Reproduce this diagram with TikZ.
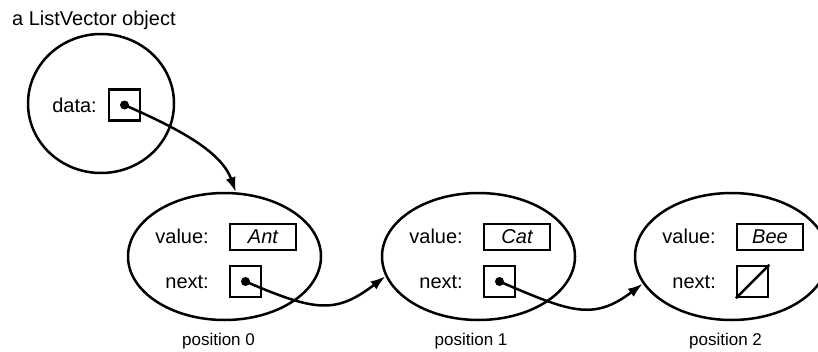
\documentclass[tikz,border=0pt]{standalone}
\usepackage{fontspec}
\setmainfont{Liberation Sans}
\usetikzlibrary{shapes.geometric,arrows.meta}
\begin{document}
\begin{tikzpicture}[x=1pt,y=-1pt,
  every node/.style={font=\fontsize{20}{24}\selectfont},
  lbl/.style={anchor=base east, inner sep=0},
  objshape/.style={draw, line width=2.5pt, ellipse, inner sep=0},
  listobj/.style={objshape, minimum width=193pt, minimum height=127pt},
  fieldbox/.style={draw, line width=2.5pt, rectangle, inner sep=0, minimum width=31pt, minimum height=31pt},
  valbox/.style={draw, line width=2.5pt, rectangle, inner sep=0, minimum width=66pt, minimum height=26pt, font=\fontsize{20}{24}\selectfont\itshape},
  dotnode/.style={circle, fill, inner sep=0, minimum size=9pt},
  link/.style={line width=2.5pt, -{Latex[length=15pt,width=10pt]}},
  poslbl/.style={font=\fontsize{17}{20}\selectfont, anchor=base, inner sep=0}
]
\useasboundingbox (0,0) rectangle (818,351);
\clip (0,0) rectangle (818,351);

% ListVector object
\node[anchor=base west, inner sep=0] (title) at (12,25) {a ListVector object};
\node[objshape, minimum width=146pt, minimum height=139pt] (lv) at (101,103.5) {};
\node[lbl] (datalbl) at (97,112) {data:};
\node[fieldbox] (databox) at (124.5,105) {};
\node[dotnode] (d0) at (databox.center) {};

% position 0
\node[listobj] (e0) at (224.5,256.5) {};
\node[lbl] (v0) at (209,243) {value:};
\node[valbox] (vb0) at (263,237) {Ant};
\node[lbl] (n0) at (209,288) {next:};
\node[fieldbox] (nb0) at (245.5,281.5) {};
\node[dotnode] (d1) at (nb0.center) {};
\node[poslbl] (p0) at (218.5,345) {position 0};

% position 1
\node[listobj] (e1) at (478.5,256.5) {};
\node[lbl] (v1) at (463,243) {value:};
\node[valbox] (vb1) at (517,237) {Cat};
\node[lbl] (n1) at (463,288) {next:};
\node[fieldbox] (nb1) at (499.5,281.5) {};
\node[dotnode] (d2) at (nb1.center) {};
\node[poslbl] (p1) at (471,345) {position 1};

% position 2
\node[listobj] (e2) at (731.5,256.5) {};
\node[lbl] (v2) at (716,243) {value:};
\node[valbox] (vb2) at (770,237) {Bee};
\node[lbl] (n2) at (716,288) {next:};
\node[fieldbox] (nb2) at (752.5,281.5) {};
\draw[line width=2.5pt] (nb2.south west) -- (nb2.north east);
\node[poslbl] (p2) at (725.5,345) {position 2};

% links
\draw[link] (d0.center) .. controls +(50,22) and +(-15,-42) .. (e0.80);
\draw[link] (d1.center) .. controls +(70,30) and +(-50,38) .. (e1.192);
\draw[link] (d2.center) .. controls +(70,30) and +(-50,38) .. (e2.197);
\end{tikzpicture}
\end{document}
